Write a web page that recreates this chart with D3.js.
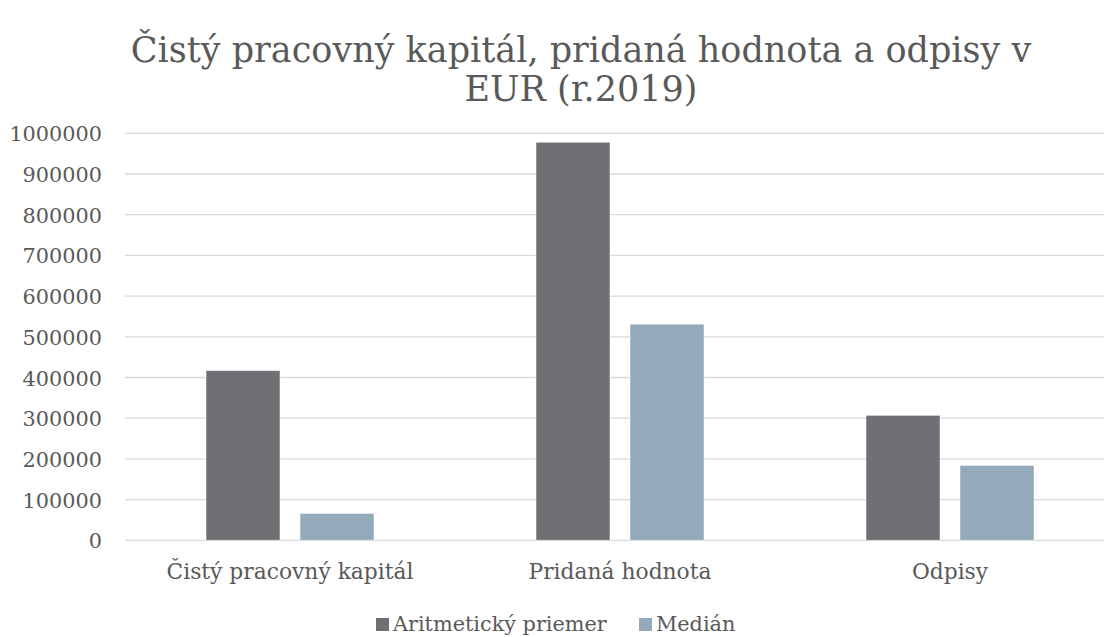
<!DOCTYPE html>
<html>
<head>
<meta charset="utf-8">
<script src="https://cdn.jsdelivr.net/npm/d3@7"></script>
<style>
body { margin: 0; background: #fff; }
svg { display: block; }
text { font-family: "DejaVu Serif", "Liberation Serif", serif; fill: #595959; }
</style>
</head>
<body>
<svg id="chart" width="1104" height="637"></svg>
<script>
var categories = ["Čistý pracovný kapitál", "Pridaná hodnota", "Odpisy"];
var seriesNames = ["Aritmetický priemer", "Medián"];
var seriesColors = ["#706f74", "#93aaba"];
var meanValues = [417000, 978000, 307000];
var medianValues = [66000, 531000, 184000];
var yTicks = [0, 100000, 200000, 300000, 400000, 500000, 600000, 700000, 800000, 900000, 1000000];

var chart = {};
chart.left = 125;
chart.right = 1115;
chart.top = 133.3;
chart.bottom = 540.3;
chart.fontSize = 20.8;

var svg = d3.select("#chart");

var y = d3.scaleLinear().domain([0, 1000000]).range([chart.bottom, chart.top]);
var x0 = d3.scaleBand().domain(categories).range([chart.left, chart.right]).padding(0);
var x1 = d3.scaleBand().domain(seriesNames).range([0, x0.bandwidth()])
			.paddingInner(20 / 94).paddingOuter(0.8617);

// gridlines
svg.append("g").selectAll("line")
	.data(yTicks)
	.enter().append("line")
	.attr("x1", chart.left)
	.attr("x2", chart.right)
	.attr("y1", function(d){ return y(d); })
	.attr("y2", function(d){ return y(d); })
	.style("stroke", "#d9d9d9")
	.style("stroke-width", 1.3);

// y axis labels
var yAxis = d3.axisLeft(y).tickValues(yTicks).tickSize(0).tickPadding(0).tickFormat(d3.format("d"));
var yg = svg.append("g").attr("transform", "translate(102,0)").call(yAxis);
yg.select(".domain").remove();
yg.selectAll("text")
	.style("font-size", chart.fontSize + "px")
	.style("fill", "#595959")
	.style("font-family", "\"DejaVu Serif\", serif")
	.attr("dy", "0.36em");

// bars
var rows = categories.map(function(c, i){
	return [{cat: c, s: seriesNames[0], v: meanValues[i]}, {cat: c, s: seriesNames[1], v: medianValues[i]}];
});

svg.append("g").selectAll("g")
	.data(rows)
	.enter().append("g")
	.attr("transform", function(d){ return "translate(" + x0(d[0].cat) + ",0)"; })
	.selectAll("rect")
	.data(function(d){ return d; })
	.enter().append("rect")
	.attr("x", function(d){ return x1(d.s); })
	.attr("y", function(d){ return y(d.v); })
	.attr("width", x1.bandwidth())
	.attr("height", function(d){ return y(0) - y(d.v); })
	.style("fill", function(d, i){ return seriesColors[seriesNames.indexOf(d.s)]; })
	.style("stroke", "rgba(255,255,255,0.5)")
	.style("stroke-width", 1);

// category labels
var xAxis = d3.axisBottom(x0).tickSize(0).tickPadding(0);
var xg = svg.append("g").attr("transform", "translate(0,579)").call(xAxis);
xg.select(".domain").remove();
xg.selectAll("text")
	.attr("dy", 0)
	.attr("y", 0)
	.style("font-size", "21.8px")
	.style("fill", "#595959")
	.style("font-family", "\"DejaVu Serif\", serif");

// title
var title = svg.append("g");
title.append("text")
	.attr("x", 581).attr("y", 62)
	.attr("text-anchor", "middle")
	.style("font-size", "35px")
	.text("Čistý pracovný kapitál, pridaná hodnota a odpisy v");
title.append("text")
	.attr("x", 581).attr("y", 101)
	.attr("text-anchor", "middle")
	.style("font-size", "35px")
	.text("EUR (r.2019)");

// legend
var legendX = [376, 639];
var legend = svg.append("g").selectAll("g")
	.data(seriesNames)
	.enter().append("g")
	.attr("transform", function(d, i){ return "translate(" + legendX[i] + ",618)"; });
legend.append("rect")
	.attr("width", 13).attr("height", 13)
	.style("fill", function(d, i){ return seriesColors[i]; });
legend.append("text")
	.attr("x", 17).attr("y", 13)
	.style("font-size", chart.fontSize + "px")
	.text(function(d){ return d; });
</script>
</body>
</html>
